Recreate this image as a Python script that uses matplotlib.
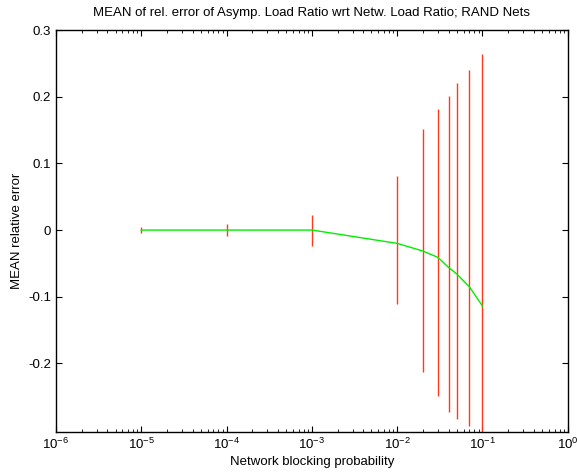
import matplotlib
matplotlib.use("Agg")
import matplotlib.pyplot as plt
from matplotlib.ticker import FuncFormatter, LogLocator, NullFormatter

plt.rcParams['font.family'] = ['Liberation Sans', 'DejaVu Sans']
plt.rcParams['mathtext.fontset'] = 'custom'
plt.rcParams['mathtext.rm'] = 'Liberation Sans'
plt.rcParams['mathtext.it'] = 'Liberation Sans'

# blocking probability and mean relative error with lower / upper error ends
blocking = [1e-5, 1e-4, 1e-3, 1e-2, 2e-2, 3e-2, 4e-2, 5e-2, 7e-2, 1e-1]
mean_err = [0.0, 0.0, 0.0, -0.020, -0.0315, -0.041, -0.056, -0.066, -0.085, -0.114]
err_low = [-0.0045, -0.009, -0.024, -0.111, -0.2135, -0.2485, -0.2735, -0.284, -0.294, -0.32]
err_high = [0.0045, 0.009, 0.0225, 0.081, 0.151, 0.181, 0.201, 0.220, 0.240, 0.265]

fig = plt.figure(figsize=(5.77, 4.72), dpi=100)
ax = fig.add_axes([0.097, 0.085, 0.887, 0.851])

lower = [m - lo for m, lo in zip(mean_err, err_low)]
upper = [hi - m for m, hi in zip(mean_err, err_high)]
ax.errorbar(blocking, mean_err, yerr=[lower, upper], fmt='none',
            ecolor='#ff3a1a', elinewidth=1.0, capsize=0)
ax.plot(blocking, mean_err, color='#00ee00', linewidth=1.0)

ax.set_xscale('log')
ax.set_xlim(1e-6, 1)
ax.set_ylim(-0.303, 0.3)
ax.set_yticks([-0.2, -0.1, 0, 0.1, 0.2, 0.3])
ax.yaxis.set_major_formatter(FuncFormatter(lambda v, p: '0' if abs(v) < 1e-9 else ('%g' % v)))
ax.xaxis.set_major_locator(LogLocator(base=10, numticks=10))
ax.xaxis.set_minor_locator(LogLocator(base=10, subs=range(2, 10), numticks=100))
ax.xaxis.set_minor_formatter(NullFormatter())

ax.tick_params(which='both', direction='in', top=True, right=True, labelsize=9.5)
ax.tick_params(which='major', length=4.5, width=0.8)
ax.tick_params(which='minor', length=2, width=0.6)
for s in ax.spines.values():
    s.set_linewidth(1.0)

ax.set_title('MEAN of rel. error of Asymp. Load Ratio wrt Netw. Load Ratio; RAND Nets',
             fontsize=9.5, pad=10)
ax.set_xlabel('Network blocking probability', fontsize=9.5, labelpad=3)
ax.set_ylabel('MEAN relative error', fontsize=9.5, labelpad=4)

fig.savefig('out.png', dpi=100)
